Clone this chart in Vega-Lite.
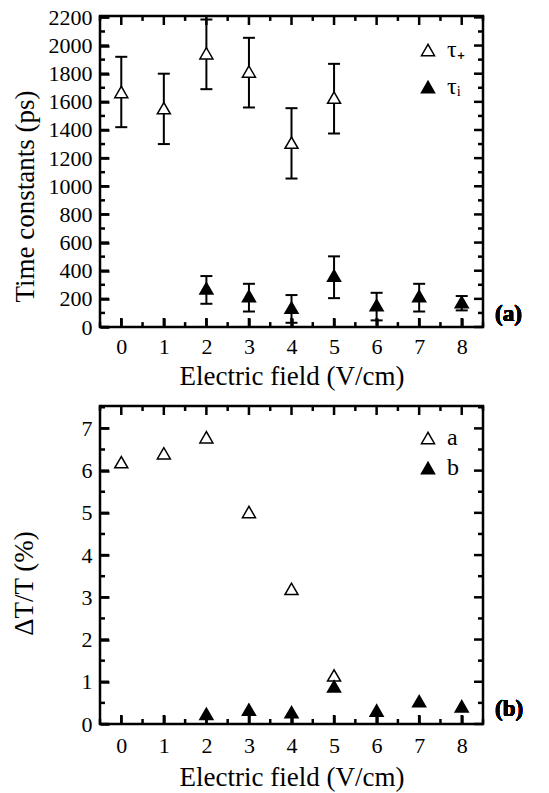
{
  "$schema": "https://vega.github.io/schema/vega-lite/v6.json",
  "autosize": {"type": "pad"},
  "padding": {"left": 8, "top": 5, "right": 0, "bottom": 0},
  "background": "white",
  "datasets": {
    "tc": [
      {"E": 0, "tau": 1670, "lo": 1420, "hi": 1920, "s": "τ₊"},
      {"E": 1, "tau": 1555, "lo": 1300, "hi": 1800, "s": "τ₊"},
      {"E": 2, "tau": 1945, "lo": 1690, "hi": 2185, "s": "τ₊"},
      {"E": 3, "tau": 1815, "lo": 1560, "hi": 2055, "s": "τ₊"},
      {"E": 4, "tau": 1310, "lo": 1055, "hi": 1555, "s": "τ₊"},
      {"E": 5, "tau": 1630, "lo": 1375, "hi": 1870, "s": "τ₊"},
      {"E": 2, "tau": 275, "lo": 165, "hi": 362, "s": "τᵢ"},
      {"E": 3, "tau": 220, "lo": 110, "hi": 307, "s": "τᵢ"},
      {"E": 4, "tau": 137, "lo": 30, "hi": 227, "s": "τᵢ"},
      {"E": 5, "tau": 365, "lo": 205, "hi": 502, "s": "τᵢ"},
      {"E": 6, "tau": 155, "lo": 47, "hi": 243, "s": "τᵢ"},
      {"E": 7, "tau": 220, "lo": 110, "hi": 307, "s": "τᵢ"},
      {"E": 8, "tau": 177, "lo": 118, "hi": 220, "s": "τᵢ"}
    ],
    "dt": [
      {"E": 0, "v": 6.2, "s": "a"},
      {"E": 1, "v": 6.41, "s": "a"},
      {"E": 2, "v": 6.79, "s": "a"},
      {"E": 3, "v": 5.02, "s": "a"},
      {"E": 4, "v": 3.2, "s": "a"},
      {"E": 5, "v": 1.15, "s": "a"},
      {"E": 2, "v": 0.24, "s": "b"},
      {"E": 3, "v": 0.34, "s": "b"},
      {"E": 4, "v": 0.28, "s": "b"},
      {"E": 5, "v": 0.89, "s": "b"},
      {"E": 6, "v": 0.32, "s": "b"},
      {"E": 7, "v": 0.54, "s": "b"},
      {"E": 8, "v": 0.42, "s": "b"}
    ],
    "xmaj": [{"p": 0}, {"p": 1}, {"p": 2}, {"p": 3}, {"p": 4}, {"p": 5}, {"p": 6}, {"p": 7}, {"p": 8}],
    "xmin": [{"p": -0.5}, {"p": 0.5}, {"p": 1.5}, {"p": 2.5}, {"p": 3.5}, {"p": 4.5}, {"p": 5.5}, {"p": 6.5}, {"p": 7.5}, {"p": 8.5}],
    "y1maj": [{"p": 0}, {"p": 200}, {"p": 400}, {"p": 600}, {"p": 800}, {"p": 1000}, {"p": 1200}, {"p": 1400}, {"p": 1600}, {"p": 1800}, {"p": 2000}, {"p": 2200}],
    "y1min": [{"p": 100}, {"p": 300}, {"p": 500}, {"p": 700}, {"p": 900}, {"p": 1100}, {"p": 1300}, {"p": 1500}, {"p": 1700}, {"p": 1900}, {"p": 2100}],
    "y2maj": [{"p": 0}, {"p": 1}, {"p": 2}, {"p": 3}, {"p": 4}, {"p": 5}, {"p": 6}, {"p": 7}],
    "y2min": [{"p": 0.5}, {"p": 1.5}, {"p": 2.5}, {"p": 3.5}, {"p": 4.5}, {"p": 5.5}, {"p": 6.5}, {"p": 7.5}]
  },
  "vconcat": [
    {
      "width": 383,
      "height": 311,
      "data": {"name": "tc"},
      "resolve": {"axis": {"x": "independent", "y": "independent"}},
      "layer": [
        {
          "mark": {"type": "rule", "strokeWidth": 2, "color": "black"},
          "encoding": {
            "x": {"field": "E", "type": "quantitative", "scale": {"domain": [-0.5, 8.5], "nice": false, "zero": false},
              "axis": {"orient": "bottom", "values": [0, 1, 2, 3, 4, 5, 6, 7, 8], "ticks": true, "tickColor": "#000000", "tickWidth": 2.5, "offset": -9, "tickSize": 9, "format": "d",
                "labelPadding": 9, "title": "Electric field (V/cm)", "titleBaseline": "alphabetic", "titleY": 66}},
            "y": {"field": "lo", "type": "quantitative", "scale": {"domain": [0, 2210], "nice": false},
              "axis": {"orient": "left", "values": [0,200,400,600,800,1000,1200,1400,1600,1800,2000,2200], "ticks": true, "tickColor": "#000000", "tickWidth": 2.5, "offset": -9, "tickSize": 9, "format": "d",
                "labelPadding": 8, "title": "Time constants (ps)", "titleX": -70, "titleY": 180}},
            "y2": {"field": "hi"}
          }
        },
        {
          "mark": {"type": "tick", "orient": "horizontal", "size": 12, "thickness": 2, "color": "black", "opacity": 1},
          "encoding": {
            "x": {"field": "E", "type": "quantitative", "axis": null},
            "y": {"field": "lo", "type": "quantitative", "axis": null}
          }
        },
        {
          "mark": {"type": "tick", "orient": "horizontal", "size": 12, "thickness": 2, "color": "black", "opacity": 1},
          "encoding": {
            "x": {"field": "E", "type": "quantitative", "axis": null},
            "y": {"field": "hi", "type": "quantitative", "axis": null}
          }
        },
        {
          "data": {"name": "xmaj"},
          "mark": {"type": "rule", "strokeWidth": 2.5, "color": "black"},
          "encoding": {
            "x": {"field": "p", "type": "quantitative", "axis": null},
            "y": {"datum": 0, "type": "quantitative", "axis": null},
            "y2": {"datum": 64}
          }
        },
        {
          "data": {"name": "xmin"},
          "mark": {"type": "rule", "strokeWidth": 2.5, "color": "black"},
          "encoding": {
            "x": {"field": "p", "type": "quantitative", "axis": null},
            "y": {"datum": 0, "type": "quantitative", "axis": null},
            "y2": {"datum": 35}
          }
        },
        {
          "data": {"name": "xmaj"},
          "mark": {"type": "rule", "strokeWidth": 2.5, "color": "black"},
          "encoding": {
            "x": {"field": "p", "type": "quantitative", "axis": null},
            "y": {"datum": 2210, "type": "quantitative", "axis": null},
            "y2": {"datum": 2146}
          }
        },
        {
          "data": {"name": "xmin"},
          "mark": {"type": "rule", "strokeWidth": 2.5, "color": "black"},
          "encoding": {
            "x": {"field": "p", "type": "quantitative", "axis": null},
            "y": {"datum": 2210, "type": "quantitative", "axis": null},
            "y2": {"datum": 2175}
          }
        },
        {
          "data": {"name": "y1maj"},
          "mark": {"type": "rule", "strokeWidth": 2.5, "color": "black"},
          "encoding": {
            "y": {"field": "p", "type": "quantitative", "axis": null},
            "x": {"datum": -0.5, "type": "quantitative", "axis": null},
            "x2": {"datum": -0.288}
          }
        },
        {
          "data": {"name": "y1min"},
          "mark": {"type": "rule", "strokeWidth": 2.5, "color": "black"},
          "encoding": {
            "y": {"field": "p", "type": "quantitative", "axis": null},
            "x": {"datum": -0.5, "type": "quantitative", "axis": null},
            "x2": {"datum": -0.3825}
          }
        },
        {
          "data": {"name": "y1maj"},
          "mark": {"type": "rule", "strokeWidth": 2.5, "color": "black"},
          "encoding": {
            "y": {"field": "p", "type": "quantitative", "axis": null},
            "x": {"datum": 8.5, "type": "quantitative", "axis": null},
            "x2": {"datum": 8.288}
          }
        },
        {
          "data": {"name": "y1min"},
          "mark": {"type": "rule", "strokeWidth": 2.5, "color": "black"},
          "encoding": {
            "y": {"field": "p", "type": "quantitative", "axis": null},
            "x": {"datum": 8.5, "type": "quantitative", "axis": null},
            "x2": {"datum": 8.3825}
          }
        },
        {
          "mark": {"type": "point", "shape": "triangle-up", "filled": true, "stroke": "black", "strokeWidth": 1.5, "size": 170, "opacity": 1},
          "encoding": {
            "x": {"field": "E", "type": "quantitative", "axis": null},
            "y": {"field": "tau", "type": "quantitative", "axis": null},
            "fill": {"field": "s", "type": "nominal", "scale": {"domain": ["τ₊", "τᵢ"], "range": ["white", "black"]},
              "legend": {"orient": "none", "legendX": 316, "legendY": 22, "rowPadding": 13, "title": null}}
          }
        },
        {
          "mark": {"type": "text", "text": "(a)", "fontSize": 23, "fontWeight": "bold", "align": "left", "baseline": "middle", "dx": 12},
          "encoding": {
            "x": {"datum": 8.5, "type": "quantitative", "axis": null},
            "y": {"datum": 92, "type": "quantitative", "axis": null}
          }
        }
      ]
    },
    {
      "width": 383,
      "height": 318,
      "data": {"name": "dt"},
      "resolve": {"axis": {"x": "independent", "y": "independent"}},
      "layer": [
        {
          "data": {"name": "xmaj"},
          "mark": {"type": "rule", "strokeWidth": 2.5, "color": "black"},
          "encoding": {
            "x": {"field": "p", "type": "quantitative", "scale": {"domain": [-0.5, 8.5], "nice": false, "zero": false},
              "axis": {"orient": "bottom", "values": [0, 1, 2, 3, 4, 5, 6, 7, 8], "ticks": true, "tickColor": "#000000", "tickWidth": 2.5, "offset": -9, "tickSize": 9, "format": "d",
                "labelPadding": 11, "title": "Electric field (V/cm)", "titleBaseline": "alphabetic", "titleY": 70}},
            "y": {"datum": 0, "type": "quantitative", "scale": {"domain": [0, 7.53], "nice": false},
              "axis": {"orient": "left", "values": [0, 1, 2, 3, 4, 5, 6, 7], "ticks": true, "tickColor": "#000000", "tickWidth": 2.5, "offset": -9, "tickSize": 9, "format": "d",
                "labelPadding": 8, "title": "ΔT/T (%)", "titleX": -71, "titleY": 177}},
            "y2": {"datum": 0.213}
          }
        },
        {
          "data": {"name": "xmin"},
          "mark": {"type": "rule", "strokeWidth": 2.5, "color": "black"},
          "encoding": {
            "x": {"field": "p", "type": "quantitative", "axis": null},
            "y": {"datum": 0, "type": "quantitative", "axis": null},
            "y2": {"datum": 0.118}
          }
        },
        {
          "data": {"name": "xmaj"},
          "mark": {"type": "rule", "strokeWidth": 2.5, "color": "black"},
          "encoding": {
            "x": {"field": "p", "type": "quantitative", "axis": null},
            "y": {"datum": 7.53, "type": "quantitative", "axis": null},
            "y2": {"datum": 7.317}
          }
        },
        {
          "data": {"name": "xmin"},
          "mark": {"type": "rule", "strokeWidth": 2.5, "color": "black"},
          "encoding": {
            "x": {"field": "p", "type": "quantitative", "axis": null},
            "y": {"datum": 7.53, "type": "quantitative", "axis": null},
            "y2": {"datum": 7.412}
          }
        },
        {
          "data": {"name": "y2maj"},
          "mark": {"type": "rule", "strokeWidth": 2.5, "color": "black"},
          "encoding": {
            "y": {"field": "p", "type": "quantitative", "axis": null},
            "x": {"datum": -0.5, "type": "quantitative", "axis": null},
            "x2": {"datum": -0.288}
          }
        },
        {
          "data": {"name": "y2min"},
          "mark": {"type": "rule", "strokeWidth": 2.5, "color": "black"},
          "encoding": {
            "y": {"field": "p", "type": "quantitative", "axis": null},
            "x": {"datum": -0.5, "type": "quantitative", "axis": null},
            "x2": {"datum": -0.3825}
          }
        },
        {
          "data": {"name": "y2maj"},
          "mark": {"type": "rule", "strokeWidth": 2.5, "color": "black"},
          "encoding": {
            "y": {"field": "p", "type": "quantitative", "axis": null},
            "x": {"datum": 8.5, "type": "quantitative", "axis": null},
            "x2": {"datum": 8.288}
          }
        },
        {
          "data": {"name": "y2min"},
          "mark": {"type": "rule", "strokeWidth": 2.5, "color": "black"},
          "encoding": {
            "y": {"field": "p", "type": "quantitative", "axis": null},
            "x": {"datum": 8.5, "type": "quantitative", "axis": null},
            "x2": {"datum": 8.3825}
          }
        },
        {
          "mark": {"type": "point", "shape": "triangle-up", "filled": true, "stroke": "black", "strokeWidth": 1.5, "size": 170, "opacity": 1},
          "encoding": {
            "x": {"field": "E", "type": "quantitative", "axis": null},
            "y": {"field": "v", "type": "quantitative", "axis": null},
            "fill": {"field": "s", "type": "nominal", "scale": {"domain": ["a", "b"], "range": ["white", "black"]},
              "legend": {"orient": "none", "legendX": 316, "legendY": 20, "rowPadding": 6, "title": null}}
          }
        },
        {
          "mark": {"type": "text", "text": "(b)", "fontSize": 23, "fontWeight": "bold", "align": "left", "baseline": "middle", "dx": 12},
          "encoding": {
            "x": {"datum": 8.5, "type": "quantitative", "axis": null},
            "y": {"datum": 0.36, "type": "quantitative", "axis": null}
          }
        }
      ]
    }
  ],
  "spacing": 79,
  "bounds": "flush",
  "resolve": {"scale": {"fill": "independent"}, "legend": {"fill": "independent"}},
  "config": {
    "font": "Liberation Serif",
    "view": {"stroke": "black", "strokeWidth": 2.5},
    "axis": {
      "domainOpacity": 0,
      "gridOpacity": 0,
      "labelFont": "Liberation Serif",
      "labelFontSize": 22,
      "labelColor": "black",
      "labelFlush": false,
      "labelOverlap": false,
      "titleFont": "Liberation Serif",
      "titleFontSize": 27,
      "titleFontWeight": "normal",
      "titleColor": "black"
    },
    "legend": {
      "symbolType": "triangle-up",
      "symbolStrokeColor": "black",
      "symbolStrokeWidth": 1.5,
      "symbolSize": 170,
      "labelFont": "Liberation Serif",
      "labelFontSize": 24,
      "labelColor": "black",
      "labelOffset": 7,
      "padding": 0
    }
  }
}
